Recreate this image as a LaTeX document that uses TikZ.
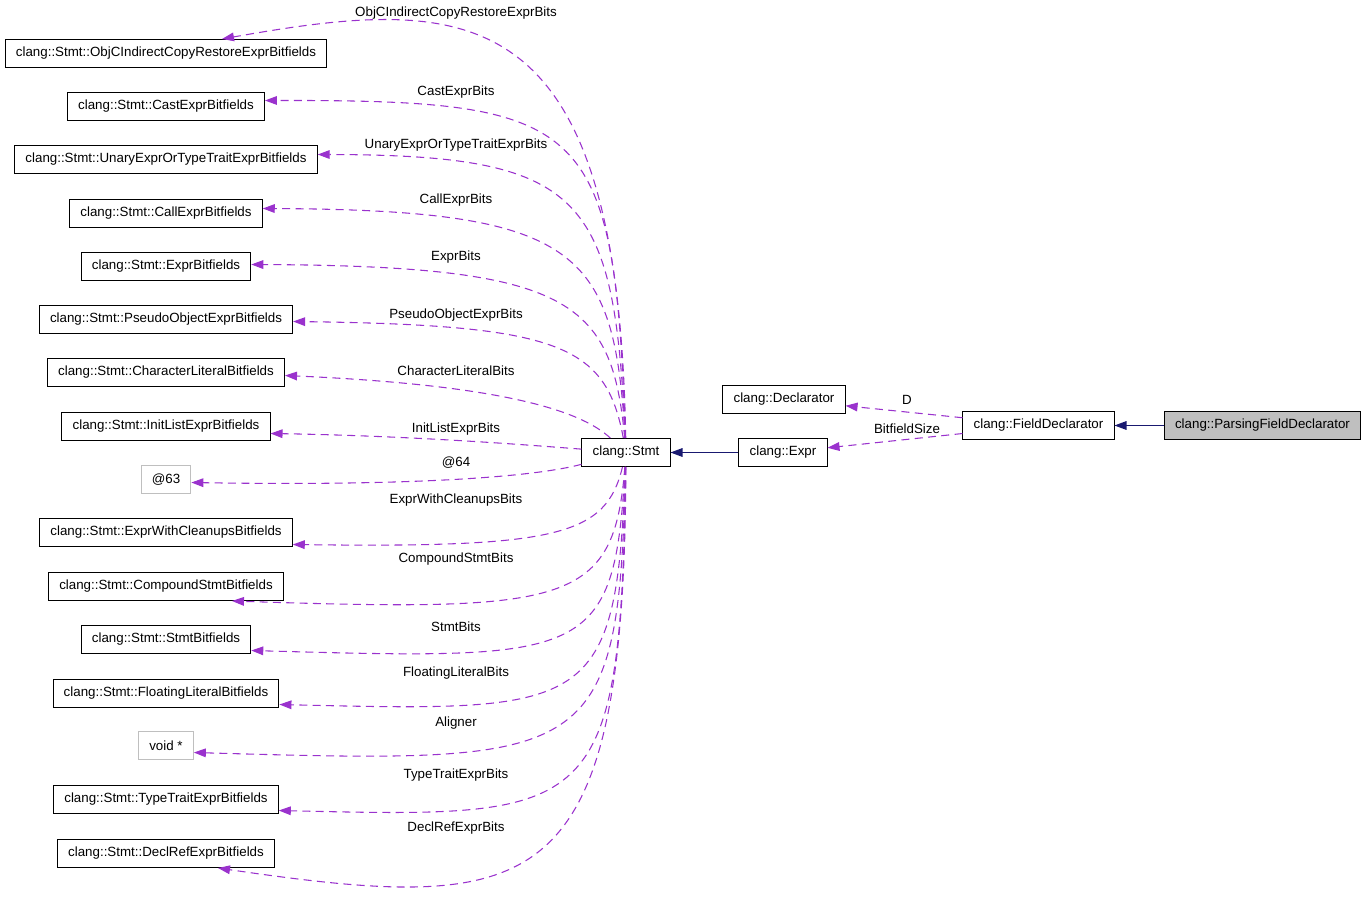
\documentclass[tikz,border=0pt]{standalone}
\usepackage{fontspec}
\setmainfont{Liberation Sans}
\usetikzlibrary{arrows.meta,calc}

\definecolor{deppurple}{HTML}{9A32CD}
\definecolor{inhnavy}{HTML}{191970}
\definecolor{extgray}{HTML}{BFBFBF}

\begin{document}
\begin{tikzpicture}[x=0.75pt, y=-0.75pt, font=\fontsize{10}{12}\selectfont,
  cls/.style={draw=black, line width=0.75pt, minimum height=21pt, inner xsep=8pt, inner ysep=0pt},
  extcls/.style={cls, draw=extgray},
  dep/.style={deppurple, line width=0.8pt, dash pattern=on 6pt off 4pt, -{Triangle[length=9pt, width=6.5pt]}},
  inh/.style={inhnavy, line width=0.8pt, -{Triangle[length=9pt, width=6.5pt]}},
  lbl/.style={inner sep=0pt}]
\useasboundingbox (0,0) rectangle (1365,898);

\node[cls] (objc) at (166,53.5) {clang::Stmt::ObjCIndirectCopyRestoreExprBitfields};
\node[cls] (castb) at (166,106.5) {clang::Stmt::CastExprBitfields};
\node[cls] (unary) at (166,159.5) {clang::Stmt::UnaryExprOrTypeTraitExprBitfields};
\node[cls] (callb) at (166,213.5) {clang::Stmt::CallExprBitfields};
\node[cls] (exprb) at (166,266.5) {clang::Stmt::ExprBitfields};
\node[cls] (pseudo) at (166,319.5) {clang::Stmt::PseudoObjectExprBitfields};
\node[cls] (charlit) at (166,372.5) {clang::Stmt::CharacterLiteralBitfields};
\node[cls] (initlist) at (166,426.5) {clang::Stmt::InitListExprBitfields};
\node[extcls] (anon63) at (166,479.5) {@63};
\node[cls] (cleanups) at (166,532.5) {clang::Stmt::ExprWithCleanupsBitfields};
\node[cls] (compound) at (166,586.5) {clang::Stmt::CompoundStmtBitfields};
\node[cls] (stmtb) at (166,639.5) {clang::Stmt::StmtBitfields};
\node[cls] (floatlit) at (166,693.5) {clang::Stmt::FloatingLiteralBitfields};
\node[extcls] (voidptr) at (166,745.5) {void *};
\node[cls] (typetrait) at (166,799.5) {clang::Stmt::TypeTraitExprBitfields};
\node[cls] (declref) at (166,853.5) {clang::Stmt::DeclRefExprBitfields};

\node[cls] (stmt) at (626,452.5) {clang::Stmt};
\node[cls] (expr) at (783,452.5) {clang::Expr};
\node[cls] (declarator) at (784,399.5) {clang::Declarator};
\node[cls] (fielddecl) at (1038.5,425.5) {clang::FieldDeclarator};
\node[cls, fill=extgray] (parsing) at (1262.5,425.5) {clang::ParsingFieldDeclarator};

\draw[dep] (stmt) .. controls (618,-5) and (470,-5) .. ($(objc.north)+(56,0)$);
\draw[dep] (stmt) .. controls (614,120) and (590,100) .. ($(castb.east)+(0,-6)$);
\draw[dep] (stmt) .. controls (614,195) and (585,155) .. ($(unary.east)+(0,-5)$);
\draw[dep] (stmt) .. controls (614,250) and (580,210) .. ($(callb.east)+(0,-5)$);
\draw[dep] (stmt) .. controls (612,300) and (570,266) .. ($(exprb.east)+(0,-2)$);
\draw[dep] (stmt) .. controls (606,345) and (560,325) .. ($(pseudo.east)+(0,2)$);
\draw[dep] (stmt) .. controls (580,410) and (500,385) .. ($(charlit.east)+(0,3)$);
\draw[dep] (stmt) .. controls (540,446) and (420,436) .. ($(initlist.east)+(0,7)$);
\draw[dep] (stmt) .. controls (530,478) and (400,486) .. ($(anon63.east)+(0,3)$);
\draw[dep] (stmt) .. controls (606,535) and (560,548) .. ($(cleanups.east)+(0,12)$);
\draw[dep] (stmt) .. controls (614,605) and (570,612) .. ($(compound.south)+(66,0)$);
\draw[dep] (stmt) .. controls (614,660) and (590,660) .. ($(stmtb.east)+(0,11)$);
\draw[dep] (stmt) .. controls (616,712) and (592,712) .. ($(floatlit.east)+(0,11)$);
\draw[dep] (stmt) .. controls (618,764) and (596,764) .. ($(voidptr.east)+(0,7)$);
\draw[dep] (stmt) .. controls (620,818) and (598,818) .. ($(typetrait.east)+(0,11)$);
\draw[dep] (stmt) .. controls (624,900) and (540,915) .. ($(declref.south)+(52,0)$);

\draw[inh] (expr) -- (stmt);
\draw[inh] (parsing) -- (fielddecl);
\draw[dep] (fielddecl) -- (declarator);
\draw[dep] (fielddecl) -- (expr);

\node[lbl] (lobjc) at (456,13) {ObjCIndirectCopyRestoreExprBits};
\node[lbl] (lcast) at (456,92) {CastExprBits};
\node[lbl] (lunary) at (456,145) {UnaryExprOrTypeTraitExprBits};
\node[lbl] (lcall) at (456,200) {CallExprBits};
\node[lbl] (lexpr) at (456,257) {ExprBits};
\node[lbl] (lpseudo) at (456,315) {PseudoObjectExprBits};
\node[lbl] (lcharlit) at (456,371) {CharacterLiteralBits};
\node[lbl] (linitlist) at (456,429) {InitListExprBits};
\node[lbl] (lanon) at (456,463) {@64};
\node[lbl] (lcleanups) at (456,500) {ExprWithCleanupsBits};
\node[lbl] (lcompound) at (456,559) {CompoundStmtBits};
\node[lbl] (lstmt) at (456,627) {StmtBits};
\node[lbl] (lfloat) at (456,673) {FloatingLiteralBits};
\node[lbl] (laligner) at (456,723) {Aligner};
\node[lbl] (ltypetrait) at (456,775) {TypeTraitExprBits};
\node[lbl] (ldeclref) at (456,828) {DeclRefExprBits};
\node[lbl] (ld) at (907,400) {D};
\node[lbl] (lbitfield) at (907,429) {BitfieldSize};
\end{tikzpicture}
\end{document}
